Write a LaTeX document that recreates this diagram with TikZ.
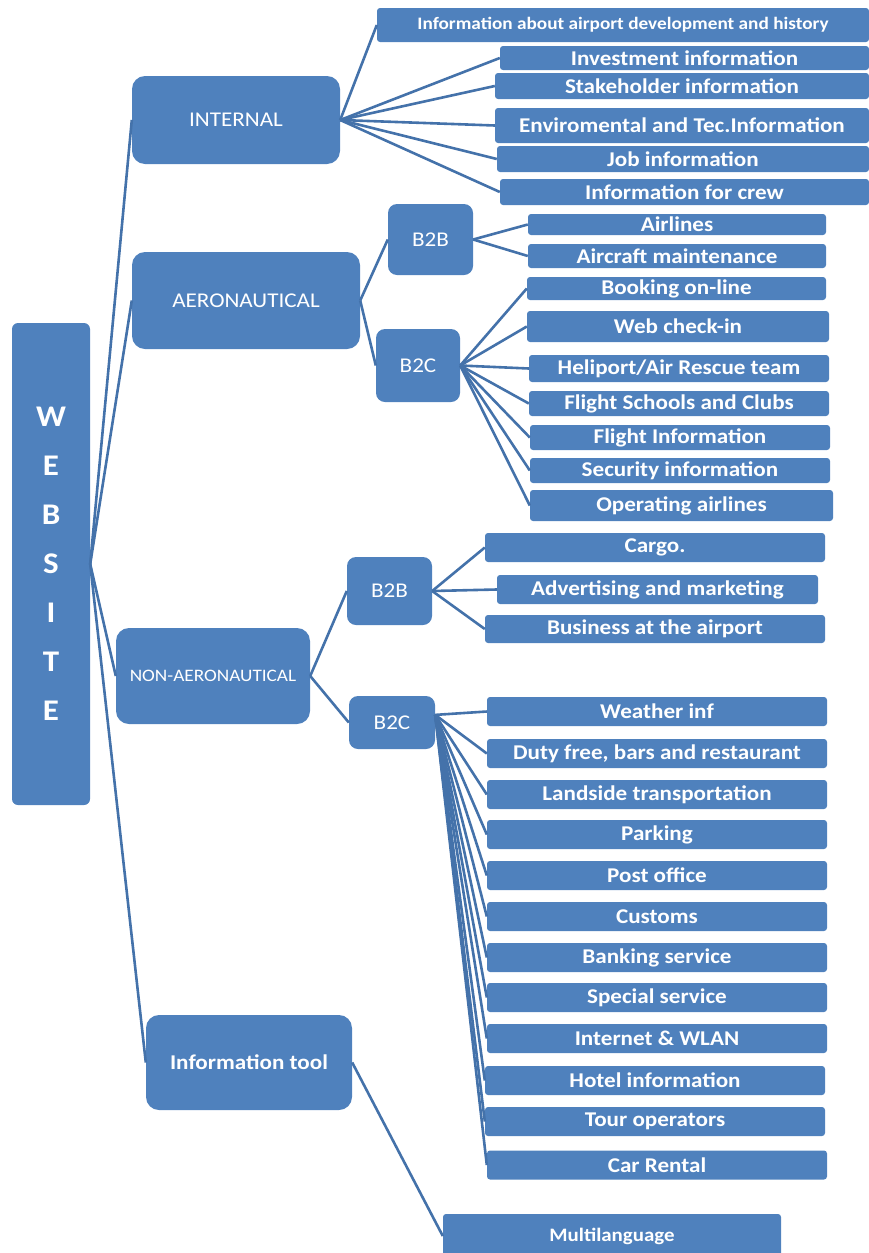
\documentclass[tikz,border=0pt]{standalone}
\usepackage{fontspec}
\setmainfont[FakeStretch=1.1]{Carlito}

\definecolor{boxblue}{RGB}{79,129,189}
\definecolor{lineblue}{RGB}{68,114,170}

\begin{document}
\begin{tikzpicture}[x=1pt,y=-1pt,
    box/.style={fill=boxblue, text=white, inner sep=0pt, rounded corners=3pt},
    wh/.style 2 args={minimum width=#1pt, minimum height=#2pt},
    group/.style={box, rounded corners=13pt, font=\fontsize{21}{23}\selectfont},
    item/.style={box, font=\bfseries\fontsize{21}{23}\selectfont},
    link/.style={draw=lineblue, line width=2.6pt}]
    \useasboundingbox (0,0) rectangle (869,1253);

    % root
    \node[box, rounded corners=6pt, wh={78}{482}, align=center,
          font=\bfseries\fontsize{30}{49}\selectfont] (web) at (51,564)
          {W\\E\\B\\S\\I\\T\\E};

    % first level
    \node[group, wh={208}{88}]  (internal) at (236,120)   {INTERNAL};
    \node[group, wh={228}{97}]  (aero)     at (246,300.5) {AERONAUTICAL};
    \node[group, wh={194}{96}, font=\fontsize{17.5}{19}\selectfont]
                                (nonaero)  at (213,676)   {NON-AERONAUTICAL};
    \node[group, wh={206}{95}, font=\bfseries\fontsize{21}{23}\selectfont]
                                (tool)     at (249,1062.5) {Information tool};

    % B2B / B2C
    \node[group, rounded corners=9pt, wh={85}{71}] (ab2b) at (430.5,239.5) {B2B};
    \node[group, rounded corners=9pt, wh={84}{73}] (ab2c) at (418,365.5)   {B2C};
    \node[group, rounded corners=9pt, wh={85}{68}] (nb2b) at (389.5,591)   {B2B};
    \node[group, rounded corners=9pt, wh={86}{53}] (nb2c) at (392,722.5)   {B2C};

    % internal
    \node[item, wh={492}{34}, font=\bfseries\fontsize{17.5}{19}\selectfont]
                           (hist)  at (623,25)    {Information about airport development and history};
    \node[item, wh={369}{24}] (inv)   at (684.5,58)  {Investment information};
    \node[item, wh={374}{26}] (stake) at (682,86)    {Stakeholder information};
    \node[item, wh={374}{35}] (env)   at (682,125.5) {Enviromental and Tec.Information};
    \node[item, wh={372}{26}] (job)   at (683,159)   {Job information};
    \node[item, wh={369}{26}] (crew)  at (684.5,192) {Information for crew};

    % aeronautical
    \node[item, wh={298}{21}] (airl)   at (677,224.5)   {Airlines};
    \node[item, wh={298}{24}] (maint)  at (677,256)     {Aircraft maintenance};
    \node[item, wh={299}{23}] (book)   at (676.5,288.5) {Booking on-line};
    \node[item, wh={302}{31}] (webci)  at (678,326.5)   {Web check-in};
    \node[item, wh={300}{27}] (heli)   at (679,368.5)   {Heliport/Air Rescue team};
    \node[item, wh={300}{25}] (school) at (679,403.5)   {Flight Schools and Clubs};
    \node[item, wh={300}{25}] (finfo)  at (680,437.5)   {Flight Information};
    \node[item, wh={300}{25}] (secu)   at (680,470.5)   {Security information};
    \node[item, wh={303}{31}] (oper)   at (681.5,505.5) {Operating airlines};

    % non-aeronautical
    \node[item, wh={340}{29}] (cargo) at (655,547.5)   {Cargo.};
    \node[item, wh={321}{29}] (adv)   at (657.5,589.5) {Advertising and marketing};
    \node[item, wh={340}{28}] (busi)  at (655,629)     {Business at the airport};

    \node[item, wh={340}{29}] (weath)  at (657,711.5)  {Weather inf};
    \node[item, wh={340}{29}] (duty)   at (657,753.5)  {Duty free, bars and restaurant};
    \node[item, wh={340}{29}] (land)   at (657,794.5)  {Landside transportation};
    \node[item, wh={340}{29}] (park)   at (657,834.5)  {Parking};
    \node[item, wh={340}{29}] (post)   at (657,875.5)  {Post office};
    \node[item, wh={340}{29}] (cust)   at (657,916.5)  {Customs};
    \node[item, wh={340}{29}] (bank)   at (657,957.5)  {Banking service};
    \node[item, wh={340}{29}] (spec)   at (657,997.5)  {Special service};
    \node[item, wh={340}{29}] (wlan)   at (657,1038.5) {Internet \& WLAN};
    \node[item, wh={340}{29}] (hotel)  at (655,1080.5) {Hotel information};
    \node[item, wh={340}{29}] (tour)   at (655,1121.5) {Tour operators};
    \node[item, wh={340}{29}] (car)    at (657,1165)   {Car Rental};

    % information tool
    \node[item, wh={338}{44}, font=\bfseries\fontsize{19}{21}\selectfont]
                              (multi) at (612,1236) {Multilanguage};

    % connectors
    \draw[link] (web.east) -- (internal.west);
    \draw[link] (web.east) -- (aero.west);
    \draw[link] (web.east) -- (nonaero.west);
    \draw[link] (web.east) -- (tool.west);

    \draw[link] (internal.east) -- (hist.west);
    \draw[link] (internal.east) -- (inv.west);
    \draw[link] (internal.east) -- (stake.west);
    \draw[link] (internal.east) -- (env.west);
    \draw[link] (internal.east) -- (job.west);
    \draw[link] (internal.east) -- (crew.west);

    \draw[link] (aero.east) -- (ab2b.west);
    \draw[link] (aero.east) -- (ab2c.west);
    \draw[link] (ab2b.east) -- (airl.west);
    \draw[link] (ab2b.east) -- (maint.west);
    \draw[link] (ab2c.east) -- (book.west);
    \draw[link] (ab2c.east) -- (webci.west);
    \draw[link] (ab2c.east) -- (heli.west);
    \draw[link] (ab2c.east) -- (school.west);
    \draw[link] (ab2c.east) -- (finfo.west);
    \draw[link] (ab2c.east) -- (secu.west);
    \draw[link] (ab2c.east) -- (oper.west);

    \draw[link] (nonaero.east) -- (nb2b.west);
    \draw[link] (nonaero.east) -- (nb2c.west);
    \draw[link] (nb2b.east) -- (cargo.west);
    \draw[link] (nb2b.east) -- (adv.west);
    \draw[link] (nb2b.east) -- (busi.west);
    \draw[link] (nb2c.10) -- (weath.west);
    \draw[link] (nb2c.10) -- (duty.west);
    \draw[link] (nb2c.10) -- (land.west);
    \draw[link] (nb2c.10) -- (park.west);
    \draw[link] (nb2c.10) -- (post.west);
    \draw[link] (nb2c.10) -- (cust.west);
    \draw[link] (nb2c.10) -- (bank.west);
    \draw[link] (nb2c.10) -- (spec.west);
    \draw[link] (nb2c.10) -- (wlan.west);
    \draw[link] (nb2c.10) -- (hotel.west);
    \draw[link] (nb2c.10) -- (tour.west);
    \draw[link] (nb2c.10) -- (car.west);

    \draw[link] (tool.east) -- (multi.west);
\end{tikzpicture}
\end{document}
